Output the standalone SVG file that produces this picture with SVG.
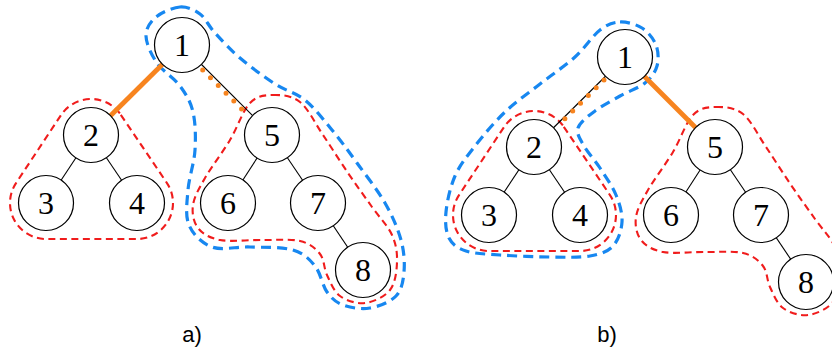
<svg xmlns="http://www.w3.org/2000/svg" width="832" height="360" viewBox="0 0 832 360">
  <style>
    .node circle { fill: #fff; stroke: #000; stroke-width: 1.2; }
    .node text { font-family: "Liberation Serif", "DejaVu Serif", serif; font-size: 32px; text-anchor: middle; fill: #000; }
    .edge { stroke: #000; stroke-width: 1.1; fill: none; }
    .bold { stroke: #f7841f; stroke-width: 4.8; fill: none; }
    .dots { stroke: #f7841f; stroke-width: 5; stroke-linecap: round; stroke-dasharray: 0 11; fill: none; }
    .red { fill: none; stroke: #f01c1c; stroke-width: 2.1; stroke-dasharray: 7 4.5; }
    .blue { fill: none; stroke: #1787f0; stroke-width: 3.2; stroke-dasharray: 10 6; }
    .label { font-family: "Liberation Sans", Arial, sans-serif; font-size: 22px; text-anchor: middle; fill: #000; }
  </style>
  <defs>
    <!-- subtree outline around nodes 2, 3, 4 -->
    <path id="hullLeft" class="red" d="M 120.8 114.8 L 166.8 182.8 A 36 36 0 0 1 137 239 L 46 239 A 36 36 0 0 1 16 183.1 L 61 115.1 A 36 36 0 0 1 120.8 114.8 Z"/>
    <!-- subtree outline around nodes 5, 6, 7, 8 -->
    <path id="hullRight" class="red" d="M 273 95 C 281.3 94.8 291.7 95.3 300 102 S 315 123.2 323 135 S 339.8 161 348 173 S 364.7 196.7 372 207 S 387.8 225.8 392 235 S 397.3 252.8 397 262 S 395.3 283.2 390 290 S 373.3 302 365 303 S 346.3 300.7 340 296 S 330.3 282 327 275 S 324.5 259.7 320 254 S 309.7 243.3 300 241 S 275.3 240.2 262 240 S 230.7 242 220 240 S 202.5 233.8 198 228 S 191.8 213.3 193 205 S 198.8 188.8 205 178 S 222.5 152.5 230 140 S 242.8 110.5 250 103 S 264.7 95.2 273 95 Z"/>
  </defs>

  <!-- component outlines -->
  <g id="outlines">
    <use href="#hullLeft"/>
    <use href="#hullRight"/>
    <path class="blue" d="M 180 7 C 187.3 6.5 194.2 9.7 200 14 S 208.3 25.7 215 33 S 230 49.5 240 58 S 264.2 77 275 84 S 295.5 92.3 305 100 S 323.3 119.5 332 130 S 348.2 150.8 357 163 S 377.7 190.2 385 203 S 397.8 228.5 401 240 S 404.8 262.7 404 272 S 401.7 290 396 296 S 378.8 306.5 370 308 S 350.2 307.7 343 305 S 331.7 298.5 327 292 S 320.7 273 315 266 S 303.8 253.2 293 250 S 263.5 247.5 250 247 S 222.2 250.7 212 247 S 193 234.5 189 225 S 187 202.5 188 190 S 194.2 163 195 150 S 195.5 122.7 193 112 S 186 94.2 180 86 S 162.7 71.3 157 63 S 146.2 43.7 146 36 S 150.3 21.8 156 17 S 172.7 7.5 180 7 Z"/>
    <use href="#hullLeft" transform="translate(443 12)"/>
    <use href="#hullRight" transform="translate(443 12)"/>
    <path class="blue" d="M 620 22 C 627 21.7 636 24.2 642 28 S 653.5 38.7 656 45 S 658.8 59.7 657 66 S 651.2 78 645 83 S 628.3 91.3 620 96 S 602 105.7 595 111 S 579.8 122.2 578 128 S 580.3 139.3 584 146 S 594.7 159.8 600 168 S 612.3 186 616 195 S 622.5 213.5 622 222 S 618.3 240.3 613 246 S 600.5 254.2 590 256 S 565 257.2 550 257 S 514 256 500 255 S 474.5 253.8 466 251 S 452.3 244.5 449 238 S 445 222.3 446 212 S 450.2 187 455 176 S 466.7 156.7 475 146 S 494.2 122.3 505 112 S 528.3 93.2 540 84 S 565 66 575 57 S 592.5 35.8 600 30 S 613 22.3 620 22 Z"/>
  </g>

  <!-- tree edges -->
  <g id="connectors">
    <line class="bold" x1="182" y1="45" x2="91" y2="135"/>
    <line class="edge" x1="182" y1="45" x2="272" y2="135"/>
    <line class="dots" x1="202.7" y1="70" x2="241.6" y2="108.9"/>
    <line class="edge" x1="91" y1="135" x2="46" y2="203"/>
    <line class="edge" x1="91" y1="135" x2="137" y2="203"/>
    <line class="edge" x1="272" y1="135" x2="228" y2="203"/>
    <line class="edge" x1="272" y1="135" x2="318" y2="203"/>
    <line class="edge" x1="318" y1="203" x2="363" y2="270"/>

    <line class="edge" x1="625" y1="57" x2="534" y2="147"/>
    <line class="dots" x1="604" y1="80" x2="557.9" y2="125.6"/>
    <line class="bold" x1="625" y1="57" x2="715" y2="147"/>
    <line class="edge" x1="534" y1="147" x2="489" y2="215"/>
    <line class="edge" x1="534" y1="147" x2="580" y2="215"/>
    <line class="edge" x1="715" y1="147" x2="671" y2="215"/>
    <line class="edge" x1="715" y1="147" x2="761" y2="215"/>
    <line class="edge" x1="761" y1="215" x2="806" y2="282"/>
  </g>

  <!-- tree a -->
  <g id="a1" class="node"><circle cx="182" cy="45" r="27.5"/><text x="182" y="56">1</text></g>
  <g id="a2" class="node"><circle cx="91" cy="135" r="27.5"/><text x="91" y="146">2</text></g>
  <g id="a3" class="node"><circle cx="46" cy="203" r="27.5"/><text x="46" y="214">3</text></g>
  <g id="a4" class="node"><circle cx="137" cy="203" r="27.5"/><text x="137" y="214">4</text></g>
  <g id="a5" class="node"><circle cx="272" cy="135" r="27.5"/><text x="272" y="146">5</text></g>
  <g id="a6" class="node"><circle cx="228" cy="203" r="27.5"/><text x="228" y="214">6</text></g>
  <g id="a7" class="node"><circle cx="318" cy="203" r="27.5"/><text x="318" y="214">7</text></g>
  <g id="a8" class="node"><circle cx="363" cy="270" r="27.5"/><text x="363" y="281">8</text></g>

  <!-- tree b -->
  <g id="b1" class="node"><circle cx="625" cy="57" r="27.5"/><text x="625" y="68">1</text></g>
  <g id="b2" class="node"><circle cx="534" cy="147" r="27.5"/><text x="534" y="158">2</text></g>
  <g id="b3" class="node"><circle cx="489" cy="215" r="27.5"/><text x="489" y="226">3</text></g>
  <g id="b4" class="node"><circle cx="580" cy="215" r="27.5"/><text x="580" y="226">4</text></g>
  <g id="b5" class="node"><circle cx="715" cy="147" r="27.5"/><text x="715" y="158">5</text></g>
  <g id="b6" class="node"><circle cx="671" cy="215" r="27.5"/><text x="671" y="226">6</text></g>
  <g id="b7" class="node"><circle cx="761" cy="215" r="27.5"/><text x="761" y="226">7</text></g>
  <g id="b8" class="node"><circle cx="806" cy="282" r="27.5"/><text x="806" y="293">8</text></g>

  <!-- panel captions -->
  <text class="label" x="192" y="342">a)</text>
  <text class="label" x="607" y="342">b)</text>
</svg>
